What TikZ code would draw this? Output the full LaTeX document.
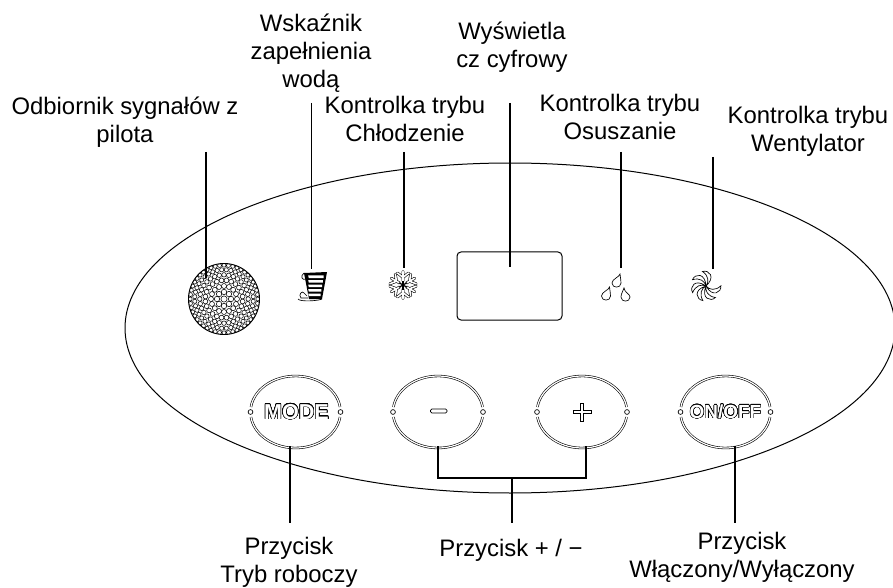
\documentclass[tikz,border=0pt]{standalone}
\usepackage{fontspec}
\setmainfont{Liberation Sans}
\usepackage{contour}
\contourlength{0.38pt}
\contournumber{24}
\tikzset{
  lbl/.style={align=center,font=\fontsize{17.9}{21}\selectfont,inner sep=0pt,anchor=base},
  lead/.style={line width=1pt,black},
  btn/.style={inner sep=0pt,font=\bfseries},
  rim/.style={line width=0.45pt,double=white,double distance=0.9pt,black},
  peg/.style={line width=0.5pt,draw=black,fill=white},
  ico/.style={line width=0.5pt,black},
  thick outline/.style={line width=2.1pt,black,line cap=round,line join=round},
  thin core/.style={line width=1.2pt,white,line cap=round,line join=round},
}
\newcommand{\btnrim}[2]{% centre x, y
  \draw[rim] (#1,#2) ++(8:45 and 36) arc[start angle=8,end angle=172,x radius=45,y radius=36];
  \draw[rim] (#1,#2) ++(188:45 and 36) arc[start angle=188,end angle=352,x radius=45,y radius=36];
  \draw[peg] (#1-45,#2) circle[radius=2.4];
  \draw[peg] (#1+45,#2) circle[radius=2.4];
}
\newcommand{\droplet}[3]{% apex x, apex y, body centre x
  \draw[ico] (#1,#2) .. controls (#1-0.5,#2+3) and (#3-4.5,#2+5) .. (#3-4.5,#2+9)
     .. controls (#3-4.5,#2+14.5) and (#3+4.5,#2+14.5) .. (#3+4.5,#2+9)
     .. controls (#3+4.5,#2+6) and (#1+0.5,#2+4.5) .. cycle;
}
\newcommand{\snowpath}{(0,-4) -- (0,-13.5) (0,-7.5) -- (-5.5,-12) (0,-7.5) -- (5.5,-12)}
\begin{document}
\begin{tikzpicture}[x=0.75pt,y=-0.75pt]
\useasboundingbox (0,0) rectangle (893,588);
% panel
\begin{scope}
\clip (0,0) rectangle (893,588);
\draw[line width=0.75pt] (510,328) ellipse[x radius=385,y radius=165];
\end{scope}
% display
\draw[line width=0.75pt,rounded corners=3pt] (457,252) rectangle (562,320);
% grille
\begin{scope}
\clip (224,299) circle[radius=35.5];
\draw[line width=0.4pt] (224,299) circle[radius=3.1];
\foreach \rr/\nn/\ss/\oo in {7/8/2.7/0,13/16/2.5/0,18.8/24/2.4/7.5,24.2/32/2.25/0,29.3/40/2.1/4.5,33.8/48/2/0}{
  \foreach \ii in {1,...,\nn}{
    \draw[line width=0.4pt] (224,299) ++({360/\nn*\ii+\oo}:\rr) circle[radius=\ss];
  }
}
\end{scope}
\draw[line width=0.7pt] (224,299) circle[radius=35.5];
% bucket
\fill (304,273) -- (327,272) -- (322,299) -- (309,299) -- cycle;
\foreach \yy in {275.5,280,284.5,289,293.5}{\fill[white] (308.2,\yy) -- ({370.4-0.17*\yy},\yy) -- ({370.4-0.17*\yy},\yy+2.7) -- (308.8,\yy+2.7) -- cycle;}
\draw[ico] (304,273) .. controls (300,276) and (302,281) .. (306,279);
\draw[ico] (308,298) -- (301,298) .. controls (298,295) and (302,290) .. (304,293) -- (307,296);
\draw[ico] (298,299) .. controls (300,302) and (318,301) .. (322,299);
% snowflake
\foreach \a in {0,60,...,300}{
  \draw[thick outline,shift={(403,285)},rotate=\a] \snowpath;
}
\foreach \a in {0,60,...,300}{
  \draw[thin core,shift={(403,285)},rotate=\a] \snowpath;
}
\foreach \a in {0,60,...,300}{
  \draw[line width=0.9pt,shift={(403,285)},rotate=\a] (0,0) -- (0,-4.5);
}
% drops
\droplet{620}{274}{616.5}
\droplet{609.5}{287}{606}
\droplet{624}{288}{625.5}
% fan
\foreach \a in {0,51.43,...,308}{
  \draw[line width=0.5pt,fill=white,shift={(706,286)},rotate=\a]
    (0,0) .. controls (3,-4) and (3,-10) .. (-3.5,-14.5)
       .. controls (3,-16.5) and (10,-9) .. (0,0);
}
\fill (706,286) circle[radius=1];
% buttons
\btnrim{295.5}{412}
\btnrim{438}{412}
\btnrim{582}{412}
\btnrim{725.5}{412}
\node[btn] (mode) at (296.5,412) {\fontsize{16.2}{18}\selectfont\contour{black}{\textcolor{white}{MODE}}};
\node[btn] (onoff) at (725.5,412) {\fontsize{14.2}{16}\selectfont\contour{black}{\textcolor{white}{ON/OFF}}};
\draw[line width=0.6pt,fill=white,rounded corners=1pt] (430.5,409) rectangle (447,413);
\draw[line width=0.6pt,fill=white] (580.5,403) -- (583.5,403) -- (583.5,410.5) -- (591.5,410.5) -- (591.5,413.5) -- (583.5,413.5) -- (583.5,421) -- (580.5,421) -- (580.5,413.5) -- (573,413.5) -- (573,410.5) -- (580.5,410.5) -- cycle;
% labels
\node[lbl] (lrx) at (125,143) {Odbiornik sygnałów z\\pilota};
\node[lbl] (lwat) at (311,88) {Wskaźnik\\zapełnienia\\wodą};
\node[lbl] (lcool) at (405,142) {Kontrolka trybu\\Chłodzenie};
\node[lbl] (ldisp) at (512,67.5) {Wyświetla\\cz cyfrowy};
\node[lbl] (ldry) at (620,140) {Kontrolka trybu\\Osuszanie};
\node[lbl] (lfan) at (808,152) {Kontrolka trybu\\Wentylator};
\node[lbl] (lmode) at (289,582) {Przycisk\\Tryb roboczy};
\node[lbl] (lpm) at (511,556) {Przycisk + / −};
\node[lbl] (lonoff) at (742,577) {Przycisk\\Włączony/Wyłączony};
% leaders
\coordinate (e1) at (206,278); \coordinate (s1) at (206,152);
\coordinate (e2) at (311.5,269); \coordinate (s2) at (311.5,103);
\coordinate (e3) at (404,268); \coordinate (s3) at (404,152);
\coordinate (e4) at (510,267); \coordinate (s4) at (510,103);
\coordinate (e5) at (621,268); \coordinate (s5) at (621,152);
\coordinate (e6) at (713,269); \coordinate (s6) at (713,157);
\draw[lead] (s1) -- (e1);
\draw[lead] (s2) -- (e2);
\draw[lead] (s3) -- (e3);
\draw[lead] (s4) -- (e4);
\draw[lead] (s5) -- (e5);
\draw[lead] (s6) -- (e6);
\coordinate (m1) at (290,446); \coordinate (m2) at (290,523);
\draw[lead] (m1) -- (m2);
\coordinate (o1) at (735,446); \coordinate (o2) at (735,523);
\draw[lead] (o1) -- (o2);
\coordinate (a1) at (438,446); \coordinate (a2) at (586,446); \coordinate (j) at (512,478); \coordinate (b) at (512,523);
\draw[lead] (a1) |- (j) -| (a2);
\draw[lead] (j) -- (b);
\end{tikzpicture}
\end{document}
